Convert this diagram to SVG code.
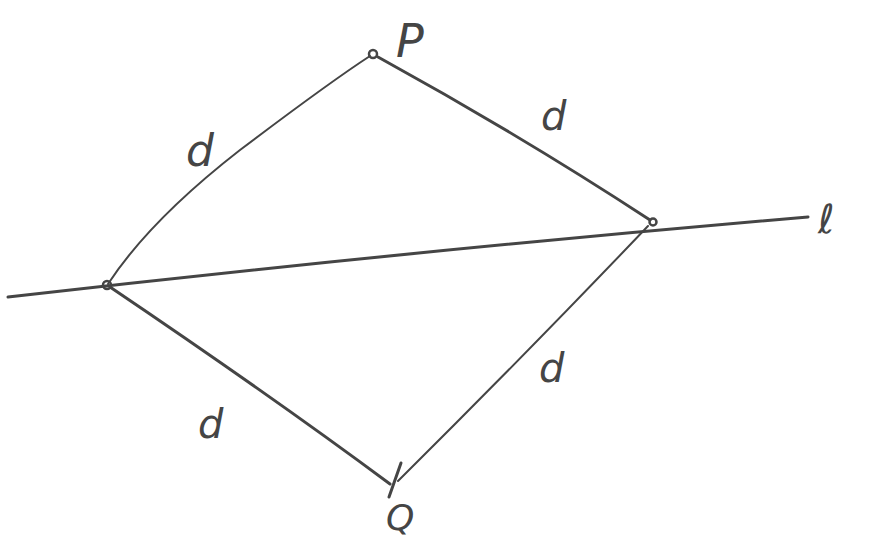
<svg xmlns="http://www.w3.org/2000/svg" width="870" height="548" viewBox="0 0 870 548">
<style>
.ln{fill:none;stroke:#454545;stroke-width:3;stroke-linecap:round;stroke-linejoin:round}
.thin{stroke-width:2}
.pt{fill:none;stroke:#454545;stroke-width:2.5}
.lbl{font-family:"DejaVu Sans",sans-serif;fill:#454545;font-style:italic}
</style>
<rect width="870" height="548" fill="#ffffff"/>
<g id="connectors">
<path class="ln" d="M8,297 Q400,252 808,217"/>
<path class="ln thin" d="M370,56 Q330,82 240,150 Q150,220 108,284"/>
<path class="ln" d="M378,57 Q520,135 650,220"/>
<path class="ln thin" d="M648,226 Q530,350 398,481"/>
<path class="ln" d="M110,287 Q270,395 390,484"/>
<path class="ln" d="M401,463 L389,497"/>
</g>
<g id="P"><circle class="pt" cx="373" cy="54" r="4"/><text class="lbl" x="396" y="57" font-size="46">P</text></g>
<g id="R"><circle class="pt" cx="653" cy="222" r="3.5"/></g>
<g id="L"><circle class="pt" cx="107" cy="285" r="4"/></g>
<g id="Q"><text class="lbl" x="386" y="530" font-size="36">Q</text></g>
<g id="lineLabel"><text class="lbl" x="818" y="233" font-size="40">ℓ</text></g>
<g id="labels">
<text class="lbl" x="186" y="166" font-size="44">d</text>
<text class="lbl" x="541" y="130" font-size="40">d</text>
<text class="lbl" x="539" y="382" font-size="40">d</text>
<text class="lbl" x="198" y="438" font-size="40">d</text>
</g>
</svg>
